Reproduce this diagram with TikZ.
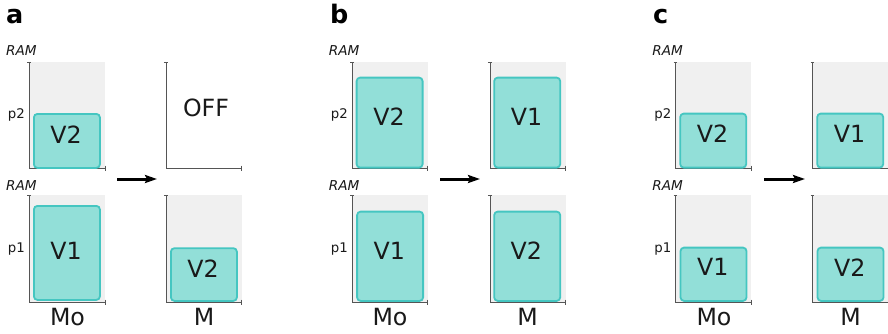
\documentclass[tikz,border=0pt]{standalone}
\usepackage{fontspec}
\setmainfont{DejaVu Sans}
\usetikzlibrary{arrows.meta}
\definecolor{boxfill}{HTML}{92DFD8}
\definecolor{boxline}{HTML}{45C6C1}
\definecolor{bggray}{HTML}{F0F0F0}
\definecolor{axgray}{HTML}{555555}
\newcommand{\axframe}[4]{% x0, top, bottom, fill?
  \ifnum#4=1 \fill[bggray] (#1,#2) rectangle ({#1+75.5},#3);\fi
  \draw[axline] (#1,#2) -- (#1,#3) -- ({#1+75.5},#3);
  \draw[axline] ({#1-2.2},#2) -- ({#1+1.5},#2);
  \draw[axline] ({#1+75.5},{#3-2.5}) -- ({#1+75.5},{#3+2.5});
}
\tikzset{
  vbox/.style={draw=boxline, fill=boxfill, line width=1.8pt, rounded corners=3.5pt, inner sep=0pt, anchor=north west},
  vtext/.style={font=\fontsize{23.7}{28}\selectfont, text=black!90, inner sep=0pt},
  xlab/.style={font=\fontsize{23.7}{28}\selectfont, text=black!90, inner sep=0pt, anchor=base},
  ramlab/.style={font=\fontsize{13.6}{15}\selectfont\itshape, text=black!90, inner sep=0pt, anchor=base},
  plab/.style={font=\fontsize{13.3}{15}\selectfont, text=black!90, inner sep=0pt, anchor=base east},
  panlab/.style={font=\fontsize{25.5}{30}\selectfont\bfseries, text=black, inner sep=0pt, anchor=base west},
  axline/.style={draw=axgray, line width=1pt},
  migr/.style={line width=3pt, -{Stealth[length=12pt,width=8pt,inset=2pt]}}
}
\begin{document}
\begin{tikzpicture}[x=1pt,y=-1pt]
\useasboundingbox (0,0) rectangle (888,333);
% ---------- panel a ----------
\node[panlab] (la) at (6,23.3) {a};
\axframe{29.5}{62}{168}{1}
\axframe{166}{62}{168}{0}
\axframe{29.5}{195}{302}{1}
\axframe{166}{195}{302}{1}
\node[ramlab] (aram1) at (21.4,55.3) {RAM};
\node[ramlab] (aram2) at (21.4,190.5) {RAM};
\node[plab] (ap2) at (25,118.8) {p2};
\node[plab] (ap1) at (25,252.2) {p1};
\node[vbox, minimum width=66pt, minimum height=54pt] (abox1) at (33,113) {};
\node[vtext] (atxt1) at (66,134.5) {V2};
\node[vtext] (aoff) at (206,108) {OFF};
\node[vbox, minimum width=66pt, minimum height=94pt] (abox2) at (33,205) {};
\node[vtext] (atxt2) at (66,251.3) {V1};
\node[vbox, minimum width=66pt, minimum height=52.7pt] (abox3) at (170,247.3) {};
\node[vtext] (atxt3) at (203,268.3) {V2};
\node[xlab] (amo) at (67.5,325.5) {Mo};
\node[xlab] (am) at (204,325.5) {M};
\coordinate (aa1) at (117,179);
\coordinate (aa2) at (157,179);
\draw[migr] (aa1) -- (aa2);
% ---------- panel b ----------
\node[panlab] (lb) at (330,23.3) {b};
\axframe{352.3}{62}{168}{1}
\axframe{490}{62}{168}{1}
\axframe{352.3}{195}{302}{1}
\axframe{490}{195}{302}{1}
\node[ramlab] (bram1) at (344.2,55.3) {RAM};
\node[ramlab] (bram2) at (344.2,190.5) {RAM};
\node[plab] (bp2) at (348,118.8) {p2};
\node[plab] (bp1) at (348,252.2) {p1};
\node[vbox, minimum width=66pt, minimum height=90pt] (bbox1) at (355.7,76.7) {};
\node[vtext] (btxt1) at (389,117) {V2};
\node[vbox, minimum width=66pt, minimum height=90pt] (bbox2) at (493.3,76.7) {};
\node[vtext] (btxt2) at (526.5,117) {V1};
\node[vbox, minimum width=66pt, minimum height=89.3pt] (bbox3) at (356.2,210.7) {};
\node[vtext] (btxt3) at (389.3,250.5) {V1};
\node[vbox, minimum width=66pt, minimum height=89.3pt] (bbox4) at (493.3,210.7) {};
\node[vtext] (btxt4) at (526.3,250.5) {V2};
\node[xlab] (bmo) at (390,325.5) {Mo};
\node[xlab] (bm) at (527.7,325.5) {M};
\coordinate (ba1) at (440,179);
\coordinate (ba2) at (480,179);
\draw[migr] (ba1) -- (ba2);
% ---------- panel c ----------
\node[panlab] (lc) at (653,23.3) {c};
\axframe{675.7}{62}{168}{1}
\axframe{812.7}{62}{168}{1}
\axframe{675.7}{195}{302}{1}
\axframe{812.7}{195}{302}{1}
\node[ramlab] (cram1) at (667.6,55.3) {RAM};
\node[ramlab] (cram2) at (667.6,190.5) {RAM};
\node[plab] (cp2) at (671.5,118.8) {p2};
\node[plab] (cp1) at (671.5,252.2) {p1};
\node[vbox, minimum width=66pt, minimum height=54pt] (cbox1) at (679.3,112.7) {};
\node[vtext] (ctxt1) at (712.5,133.7) {V2};
\node[vbox, minimum width=66pt, minimum height=54pt] (cbox2) at (816.3,112.7) {};
\node[vtext] (ctxt2) at (849.5,133.7) {V1};
\node[vbox, minimum width=66pt, minimum height=53.3pt] (cbox3) at (679.6,246.7) {};
\node[vtext] (ctxt3) at (712.8,267.3) {V1};
\node[vbox, minimum width=66pt, minimum height=53.3pt] (cbox4) at (816.6,246.7) {};
\node[vtext] (ctxt4) at (849.8,267.3) {V2};
\node[xlab] (cmo) at (714,325.5) {Mo};
\node[xlab] (cm) at (850.5,325.5) {M};
\coordinate (ca1) at (764,179);
\coordinate (ca2) at (805,179);
\draw[migr] (ca1) -- (ca2);
\end{tikzpicture}
\end{document}
